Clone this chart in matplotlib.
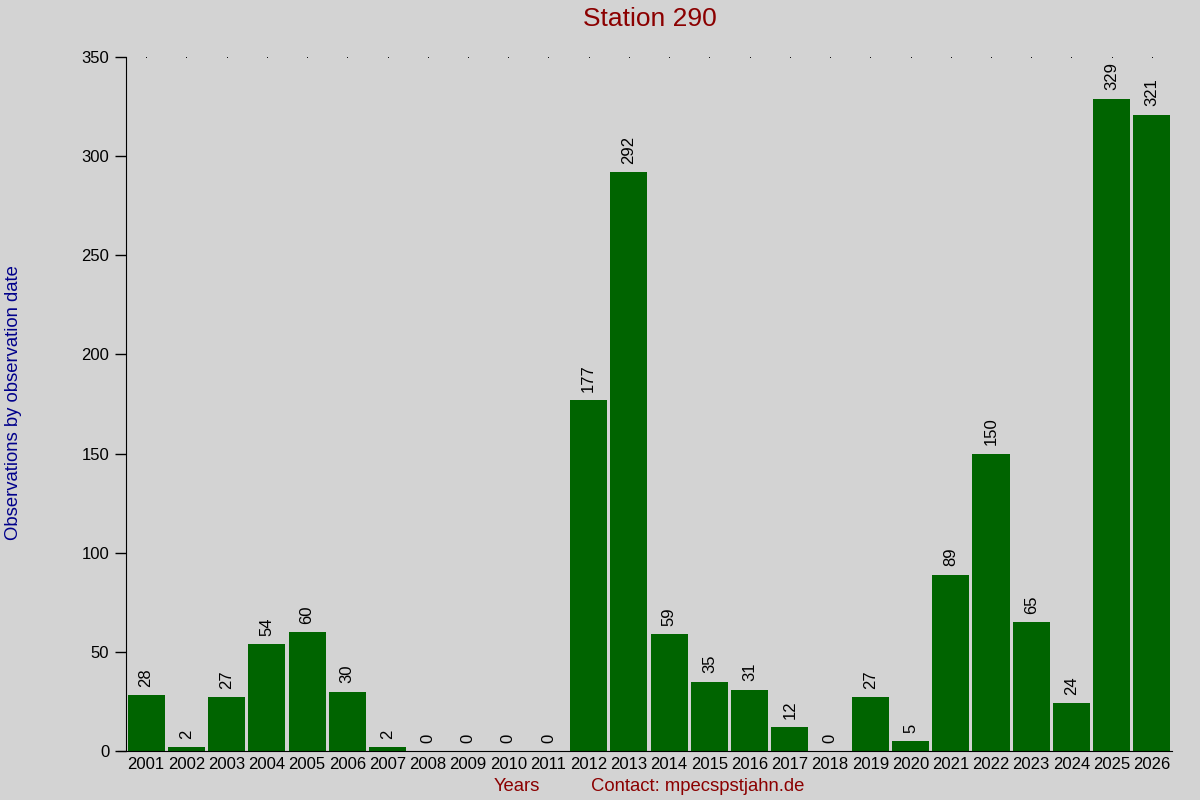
import matplotlib
matplotlib.use("Agg")
import matplotlib.pyplot as plt
import numpy as np

plt.rcParams["font.family"] = ["Liberation Sans", "DejaVu Sans"]

BG = "#d3d3d3"
BAR = "#006400"
RED = "#8b0000"
BLUE = "#00008b"

years = [str(y) for y in range(2001, 2027)]
counts = [28, 2, 27, 54, 60, 30, 2, 0, 0, 0, 0, 177, 292, 59, 35, 31, 12, 0,
          27, 5, 89, 150, 65, 24, 329, 321]
yticks = [0, 50, 100, 150, 200, 250, 300, 350]

fig = plt.figure(figsize=(12, 8), dpi=100, facecolor=BG)
ax = fig.add_axes([0.105, 0.06125, 0.8717, 0.8675], facecolor=BG)

x = np.arange(len(years))
ax.bar(x, counts, width=0.92, color=BAR)

# dotted marks along the top
ax.plot(x, [350] * len(x), linestyle="none", marker="s", markersize=0.6,
        markeredgewidth=0, color="black", clip_on=False)

for xi, v in zip(x, counts):
    ax.annotate(str(v), (xi, v), xytext=(0, 6), textcoords="offset points",
                rotation=90, ha="center", va="bottom", fontsize=12)

ax.set_xlim(-0.5, len(years) - 0.5)
ax.set_ylim(0, 350)
ax.set_xticks(x)
ax.set_xticklabels(years, fontsize=12)
ax.set_yticks(yticks)
ax.set_yticklabels([str(t) for t in yticks], fontsize=12)
ax.tick_params(axis="x", length=0, pad=4)
ax.tick_params(axis="y", length=8, width=1, pad=4)

ax.spines["top"].set_visible(False)
ax.spines["right"].set_visible(False)
ax.spines["bottom"].set_bounds(-0.7, len(years) - 0.5)

fig.text(0.5417, 0.976, "Station 290", color=RED, fontsize=19,
         ha="center", va="center")
fig.text(0.011, 0.497, "Observations by observation date", color=BLUE,
         fontsize=13.3, rotation=90, ha="center", va="center")
fig.text(0.431, 0.017, "Years", color=RED, fontsize=13.3, ha="center", va="center")
fig.text(0.4925, 0.017, "Contact: mpecspstjahn.de", color=RED, fontsize=13.3,
         ha="left", va="center")

fig.savefig("out.png", dpi=100, facecolor=BG)
